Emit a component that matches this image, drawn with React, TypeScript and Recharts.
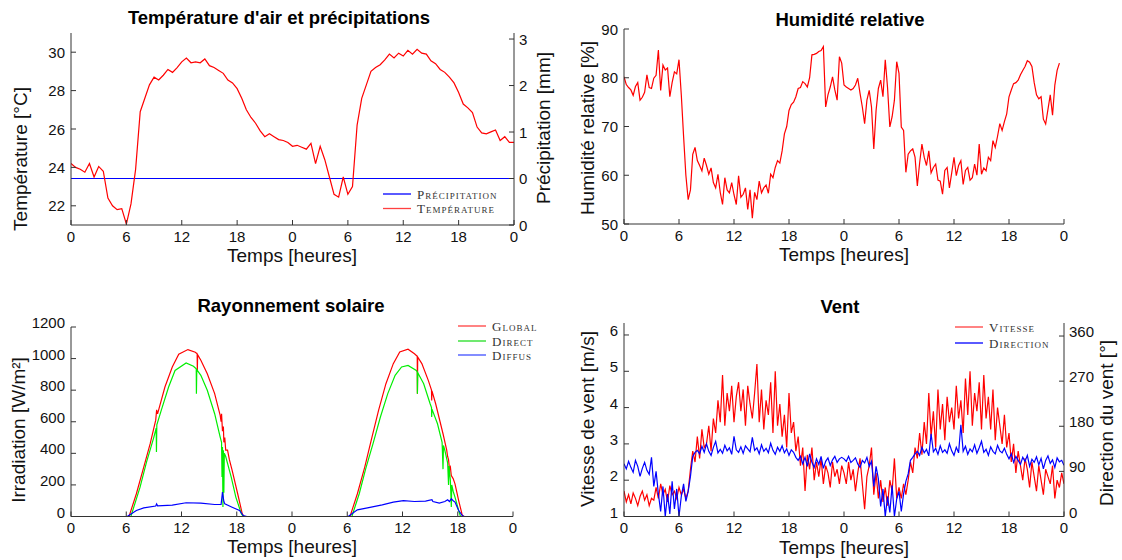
import React from 'react';
import { LineChart, Line, XAxis, YAxis } from 'recharts';

const AXIS = '#333333';
const TXT = '#111111';
const SANS = '"Liberation Sans", Arial, Helvetica, sans-serif';
const SERIF = '"Liberation Serif", "Times New Roman", serif';

// ---------- shared x axis ----------
const hourTicks = [0, 6, 12, 18, 24, 30, 36, 42, 48];
const hourLabel = (h: number) => String(h % 24);

// ---------- panel 1 : temperature & precipitation ----------
const tempStep = 0.5; // hours between samples
const temperature = [
  24.2, 24.0, 23.9, 23.75, 24.2, 23.5, 24.05, 23.8, 22.4, 22.0,
  21.8, 21.85, 21.05, 22.1, 23.9, 26.9, 27.6, 28.3, 28.7, 28.55,
  28.8, 29.1, 28.95, 29.2, 29.5, 29.7, 29.45, 29.5, 29.45, 29.65,
  29.3, 29.2, 29.05, 28.9, 28.55, 28.4, 28.1, 27.6, 27.0, 26.6,
  26.3, 25.9, 25.6, 25.75, 25.6, 25.45, 25.4, 25.3, 25.1, 25.15,
  25.05, 24.95, 25.25, 24.2, 25.1, 24.4, 23.5, 22.6, 22.45, 23.5,
  22.6, 23.0, 26.2, 27.6, 28.3, 29.0, 29.2, 29.35, 29.6, 29.9,
  29.7, 29.95, 29.8, 30.1, 29.9, 30.15, 29.95, 29.9, 29.55, 29.4,
  29.1, 28.95, 28.7, 28.4, 27.9, 27.3, 27.1, 26.85, 26.1, 25.8,
  25.75, 25.85, 25.95, 25.4, 25.6, 25.3, 25.3,
];
const precipStep = 6;
const precipitation = [0, 0, 0, 0, 0, 0, 0, 0, 0];
const tempTicks = [22, 24, 26, 28, 30];
const precipTicks = [-1, 0, 1, 2, 3];
const precipTickLabel = (v: number) => (v === -1 ? '0' : String(v));

// ---------- panel 2 : relative humidity ----------
const humStep = 0.25;
const humidity = [
  80.2, 78.6, 78.0, 77.5, 76.4, 78.2, 79.0, 75.4,
  76.0, 77.0, 80.6, 78.0, 77.8, 79.9, 80.5, 85.7,
  77.4, 82.6, 81.6, 82.0, 76.1, 79.0, 81.2, 80.8,
  83.7, 76.5, 68.0, 60.0, 55.0, 57.0, 64.3, 65.7,
  63.0, 62.0, 60.9, 63.5, 62.0, 60.2, 61.5, 58.5,
  57.4, 60.2, 56.5, 54.0, 59.5, 57.0, 56.4, 58.5,
  56.0, 54.0, 59.9, 55.5, 56.1, 57.4, 53.0, 57.0,
  51.2, 56.5, 55.0, 58.8, 56.4, 57.4, 58.0, 56.3,
  60.2, 59.5, 61.6, 63.0, 62.5, 65.0, 68.5, 70.0,
  73.3, 74.5, 75.0, 76.1, 77.8, 78.0, 79.2, 78.8,
  78.1, 80.0, 84.7, 84.8, 85.0, 85.4, 85.6, 86.4,
  74.0, 76.5, 78.1, 80.2, 77.5, 75.4, 84.3, 83.0,
  78.5, 78.1, 77.8, 77.5, 77.8, 78.5, 79.9, 76.8,
  74.0, 70.6, 75.4, 77.4, 74.0, 65.4, 73.3, 77.8,
  79.5, 76.1, 83.7, 78.0, 69.9, 72.0, 75.4, 83.3,
  80.9, 69.9, 69.2, 60.6, 64.3, 65.0, 65.4, 63.7,
  57.8, 62.5, 66.4, 63.7, 62.0, 65.0, 60.5, 61.6,
  62.3, 59.0, 58.8, 56.1, 61.0, 61.6, 57.4, 60.5,
  63.7, 59.9, 62.0, 63.0, 58.1, 61.0, 61.6, 59.0,
  59.5, 62.3, 60.0, 66.4, 60.2, 61.5, 60.9, 63.7,
  63.0, 67.1, 65.7, 68.0, 70.6, 69.2, 71.0, 72.6,
  76.1, 77.5, 78.8, 79.0, 79.5, 80.6, 81.5, 82.3,
  83.5, 83.2, 82.3, 79.0, 76.5, 75.7, 76.1, 71.5,
  70.5, 73.5, 76.5, 72.3, 78.5, 81.5, 83.0,
];
const humTicks = [50, 60, 70, 80, 90];

// ---------- panel 3 : solar radiation [hour, W/m2] ----------
const globalIrr: [number, number][] = [
  [0, 0], [6.3, 0], [7.1, 144], [7.9, 313], [8.6, 461], [9.2, 610], [9.3, 675], [9.4, 650],
  [10.2, 820], [11.0, 947], [11.7, 1027], [12.7, 1057], [13.5, 1040], [13.7, 1030], [13.72, 925],
  [13.75, 1025], [14.1, 989], [14.8, 904], [15.6, 778], [16.2, 640], [16.3, 600], [16.35, 650],
  [16.45, 540], [16.55, 570], [16.6, 470], [16.7, 500], [16.8, 420], [17.0, 420], [17.2, 360],
  [17.5, 292], [18.1, 144], [18.6, 17], [18.8, 0], [30.3, 0], [31.1, 144], [31.9, 313],
  [32.6, 482], [33.4, 672], [34.2, 841], [35.0, 968], [35.7, 1042], [36.6, 1059], [37.3, 1031],
  [37.6, 1015], [37.62, 778], [37.65, 1010], [38.1, 968], [38.8, 862], [39.15, 800], [39.17, 735],
  [39.2, 795], [39.6, 714], [40.4, 524], [40.8, 420], [40.9, 380], [41.0, 360], [41.1, 300],
  [41.2, 313], [41.3, 260], [41.5, 240], [41.7, 207], [42.1, 101], [42.5, 6], [42.7, 0], [48, 0],
];
const directIrr: [number, number][] = [
  [0, 0], [6.5, 0], [7.5, 186], [8.2, 344], [9.0, 503], [9.25, 560], [9.28, 408], [9.32, 580],
  [9.8, 672], [10.6, 820], [11.3, 925], [12.5, 972], [13.3, 951], [13.6, 935], [13.62, 778],
  [13.66, 930], [14.1, 894], [14.8, 799], [15.6, 651], [16.2, 503], [16.35, 470], [16.4, 250],
  [16.45, 440], [16.5, 60], [16.55, 420], [16.6, 150], [16.65, 400], [16.8, 380], [17.4, 249],
  [17.9, 123], [18.5, 17], [18.7, 0], [30.5, 0], [31.3, 144], [32.0, 302], [32.8, 461],
  [33.6, 630], [34.4, 778], [35.2, 894], [35.9, 947], [36.6, 957], [37.5, 925], [37.6, 915],
  [37.62, 778], [37.66, 910], [38.3, 841], [39.0, 714], [39.15, 690], [39.17, 630], [39.2, 680],
  [39.8, 587], [40.3, 470], [40.4, 300], [40.45, 450], [40.6, 418], [40.9, 340], [41.0, 200],
  [41.05, 320], [41.2, 228], [41.3, 60], [41.35, 200], [41.5, 160], [41.7, 123], [42.1, 38],
  [42.3, 0], [48, 0],
];
const diffuseIrr: [number, number][] = [
  [0, 0], [6.1, 0], [7.1, 38], [7.9, 55], [9.2, 66], [9.3, 80], [9.4, 68], [11.0, 72],
  [12.5, 87], [14.1, 85], [15.6, 76], [16.3, 76], [16.45, 154], [16.6, 95], [16.7, 80],
  [17.5, 59], [18.3, 38], [18.7, 6], [19.1, 0], [30.1, 0], [31.1, 42], [32.2, 55], [33.8, 74],
  [35.0, 91], [36.1, 101], [37.3, 95], [38.5, 97], [39.2, 106], [39.3, 95], [40.0, 85],
  [40.6, 95], [40.9, 106], [41.1, 95], [41.3, 112], [41.5, 100], [41.7, 91], [42.1, 38],
  [42.5, 6], [42.7, 0], [48, 0],
];
const irrTicks = [0, 200, 400, 600, 800, 1000, 1200];

// ---------- panel 4 : wind ----------
const windStep = 0.25;
const windSpeed = [
  1.7, 1.4, 1.6, 1.35, 1.65, 1.5, 1.3, 1.55, 1.7, 1.45, 1.6, 1.3, 1.5,
  1.45, 1.8, 1.5, 1.9, 1.6, 1.75, 1.4, 1.85, 1.6, 1.7, 1.5, 1.8, 1.6, 1.75, 1.5,
  1.7, 2.3, 2.8, 2.5,
  3.2, 2.6, 3.4, 2.9, 3.0, 3.5, 2.8, 3.7,
  3.3, 4.2, 3.6, 4.9, 3.5, 4.4, 3.9, 4.6,
  3.6, 4.3, 4.7, 3.9, 4.5, 3.5, 4.6, 4.1, 3.7, 4.4, 5.2, 3.6,
  4.5, 3.4, 4.2, 3.8, 4.7, 3.3, 5.0, 3.5,
  4.1, 3.2, 3.8, 2.9, 4.4, 3.3, 3.6, 2.8,
  3.2, 2.4, 2.9, 1.7, 2.7, 2.3, 2.9, 2.0,
  2.5, 2.1, 2.6, 1.9, 2.4, 2.2, 1.8, 2.5, 2.1, 2.3, 1.9, 2.4,
  2.2, 1.9, 2.5, 2.0, 2.3, 1.7, 2.2, 2.6, 1.9, 1.2, 2.1, 2.4,
  2.9, 1.6, 2.2, 1.5, 2.0, 1.4, 1.8, 1.3, 2.0, 1.7, 2.6, 1.5,
  1.8, 1.5, 1.9, 1.6,
  2.0, 2.5, 2.2, 2.9, 2.6, 3.3, 2.7, 3.6,
  3.0, 4.4, 3.2, 3.9, 2.9, 4.5, 3.4, 4.1, 3.1, 4.3, 3.6, 4.0,
  3.4, 4.6, 3.7, 4.2, 3.3, 4.8, 3.8, 5.0, 3.5, 4.4, 3.9, 4.7, 3.4, 4.9, 3.7, 4.3,
  3.4, 4.5, 3.1, 4.0, 3.5, 3.0, 3.8, 2.9,
  3.3, 2.5, 3.0, 2.2, 2.8, 2.4, 2.0, 2.6,
  2.3, 1.8, 2.5, 2.1, 1.7, 2.4, 2.0, 1.6, 2.3, 2.1, 1.9, 2.4, 1.5, 2.0, 1.8, 2.2,
  1.9,
];
const windDirection = [
  105, 95, 110, 98, 88, 112, 100, 80, 96, 108, 92, 84,
  118, 60, 90, 45,
  10, 60, 0, 45, 5, 70, 15, 55, 0, 40, 65, 30,
  50, 80, 120, 128,
  132, 125, 140, 128, 145, 130, 122, 138, 150, 127, 134, 126,
  142, 131, 137, 124, 160, 133, 128, 139, 126, 141, 135, 129,
  158, 132, 137, 125, 143, 130, 136, 127, 146, 132, 124, 138,
  130, 141, 127, 135, 122, 133, 128, 118,
  112, 120, 105, 118, 100, 125, 108, 98, 115, 104, 120, 96, 110, 117, 102, 113, 120, 108, 115, 118,
  115, 110, 120, 108, 112, 117, 105, 98, 112, 107, 118, 100,
  110, 60, 100, 75,
  20, 55, 0, 40, 8, 62, 0, 35, 50, 10, 45, 70,
  85, 112, 118, 125,
  130, 122, 138, 127, 134, 121, 165, 129, 136, 124, 141, 128,
  133, 126, 145, 131, 122, 138, 127, 183, 130, 140, 124, 135,
  129, 143, 126, 137, 150, 128, 134, 122, 139, 130, 125, 142,
  131, 127, 136, 124,
  115, 125, 108, 120, 112, 104, 118, 110, 122, 100, 114, 108, 119, 103, 116, 95, 112, 121, 106, 113, 98, 117, 109, 112,
  102,
];
const speedTicks = [1, 2, 3, 4, 5, 6];
const dirTicks = [0, 90, 180, 270, 360];

// ---------- helpers ----------
const stepRows = (vals: number[], step: number) => vals.map((v, i) => ({ h: i * step, v }));
const pairRows = (pairs: [number, number][]) => pairs.map(([h, v]) => ({ h, v }));

const tickText = { fontSize: 15, fontFamily: SANS, fill: TXT } as const;

const xTick = (B: number) => (p: any) => (
  <g>
    <line x1={p.x} x2={p.x} y1={B} y2={B - 5} stroke={AXIS} />
    <text x={p.x} y={B + 11} textAnchor="middle" dominantBaseline="central" {...tickText}>
      {hourLabel(p.payload.value)}
    </text>
  </g>
);
const yTickLeft = (L: number, dy: number, fmt: (v: number) => string = String) => (p: any) => (
  <g>
    <line x1={L} x2={L + 5} y1={p.y} y2={p.y} stroke={AXIS} />
    <text x={L - 6} y={p.y + dy} textAnchor="end" dominantBaseline="central" {...tickText}>
      {fmt(p.payload.value)}
    </text>
  </g>
);
const yTickRight = (R: number, dy: number, fmt: (v: number) => string = String) => (p: any) => (
  <g>
    <line x1={R} x2={R - 5} y1={p.y} y2={p.y} stroke={AXIS} />
    <text x={R + 5} y={p.y + dy} textAnchor="start" dominantBaseline="central" {...tickText}>
      {fmt(p.payload.value)}
    </text>
  </g>
);

const W = 561;
const H = 280;

const xAxisEl = (B: number) => (
  <XAxis
    type="number"
    dataKey="h"
    domain={[0, 48]}
    allowDataOverflow
    ticks={hourTicks}
    interval={0}
    height={H - B}
    axisLine={{ stroke: AXIS }}
    tickLine={false}
    tick={xTick(B)}
  />
);

const lineProps = { dataKey: 'v', dot: false, isAnimationActive: false, type: 'linear' as const, strokeWidth: 1.2, activeDot: false };

function TempChart() {
  const L = 71, R = 514, T = 33, B = 225;
  return (
    <LineChart width={W} height={H} margin={{ top: T, right: 0, bottom: 0, left: 0 }}>
      {xAxisEl(B)}
      <YAxis yAxisId="t" width={L} domain={[21, 31]} allowDataOverflow ticks={tempTicks} interval={0}
        axisLine={{ stroke: AXIS }} tickLine={false} tick={yTickLeft(L, 0)} />
      <YAxis yAxisId="p" orientation="right" width={W - R} domain={[-1, 3.13]} allowDataOverflow ticks={precipTicks} interval={0}
        axisLine={{ stroke: AXIS }} tickLine={false} tick={yTickRight(R, 0, precipTickLabel)} />
      <Line yAxisId="p" data={stepRows(precipitation, precipStep)} stroke="#0000ff" {...lineProps} />
      <Line yAxisId="t" data={stepRows(temperature, tempStep)} stroke="#ff0000" {...lineProps} />
    </LineChart>
  );
}

function HumChart() {
  const L = 63, R = 503, T = 29, B = 224;
  return (
    <LineChart width={W} height={H} margin={{ top: T, right: W - R, bottom: 0, left: 0 }}>
      {xAxisEl(B)}
      <YAxis width={L} domain={[50, 90]} allowDataOverflow ticks={humTicks} interval={0}
        axisLine={{ stroke: AXIS }} tickLine={false} tick={yTickLeft(L, 0)} />
      <Line data={stepRows(humidity, humStep)} stroke="#ff0000" {...lineProps} />
    </LineChart>
  );
}

function SolarChart() {
  const L = 71, R = 513, T = 47, B = 236.5;
  return (
    <LineChart width={W} height={H} margin={{ top: T, right: W - R, bottom: 0, left: 0 }}>
      {xAxisEl(B)}
      <YAxis width={L} domain={[0, 1200]} allowDataOverflow ticks={irrTicks} interval={0}
        axisLine={{ stroke: AXIS }} tickLine={false} tick={yTickLeft(L, -4.5)} />
      <Line data={pairRows(globalIrr)} stroke="#ff0000" {...lineProps} />
      <Line data={pairRows(directIrr)} stroke="#00ee00" {...lineProps} />
      <Line data={pairRows(diffuseIrr)} stroke="#0000ff" {...lineProps} />
    </LineChart>
  );
}

function WindChart() {
  const L = 63, R = 503, T = 43, B = 236.5;
  return (
    <LineChart width={W} height={H} margin={{ top: T, right: 0, bottom: 0, left: 0 }}>
      {xAxisEl(B)}
      <YAxis yAxisId="s" width={L} domain={[1, 6.33]} allowDataOverflow ticks={speedTicks} interval={0}
        axisLine={{ stroke: AXIS }} tickLine={false} tick={yTickLeft(L, -4.5)} />
      <YAxis yAxisId="d" orientation="right" width={W - R} domain={[0, 386]} allowDataOverflow ticks={dirTicks} interval={0}
        axisLine={{ stroke: AXIS }} tickLine={false} tick={yTickRight(R, -4.5)} />
      <Line yAxisId="s" data={stepRows(windSpeed, windStep)} stroke="#ff0000" {...lineProps} />
      <Line yAxisId="d" data={stepRows(windDirection, windStep)} stroke="#0000ff" {...lineProps} />
    </LineChart>
  );
}

const titleStyle = { fontSize: 18.5, fontWeight: 700, fontFamily: SANS, fill: '#000' } as const;
const labelStyle = { fontSize: 19, fontFamily: SANS, fill: TXT } as const;
const legendStyle = { fontSize: 13, fontFamily: SERIF, fill: '#333', fontVariant: 'small-caps', letterSpacing: 1 } as any;

function VLabel({ x, y, text }: { x: number; y: number; text: string }) {
  return (
    <text transform={`translate(${x},${y}) rotate(-90)`} textAnchor="middle" {...labelStyle}>
      {text}
    </text>
  );
}

function LegendEntries({ x, ys, items }: { x: number; ys: number[]; items: { name: string; color: string }[] }) {
  return (
    <g>
      {items.map((it, i) => (
        <g key={it.name}>
          <line x1={x} x2={x + 28} y1={ys[i]} y2={ys[i]} stroke={it.color} strokeWidth={1.3} />
          <text x={x + 34} y={ys[i]} dominantBaseline="central" {...legendStyle}>{it.name}</text>
        </g>
      ))}
    </g>
  );
}

export default function App() {
  return (
    <div style={{ position: 'absolute', left: 0, top: 0, width: 1122, height: 560, background: '#fff' }}>
      <div style={{ position: 'absolute', left: 0, top: 0 }}><TempChart /></div>
      <div style={{ position: 'absolute', left: 561, top: 0 }}><HumChart /></div>
      <div style={{ position: 'absolute', left: 0, top: 280 }}><SolarChart /></div>
      <div style={{ position: 'absolute', left: 561, top: 280 }}><WindChart /></div>
      <svg width={1122} height={560} style={{ position: 'absolute', left: 0, top: 0, pointerEvents: 'none' }}>
        <text x={279} y={24} textAnchor="middle" {...titleStyle}>Température d'air et précipitations</text>
        <text x={850} y={26} textAnchor="middle" {...titleStyle}>Humidité relative</text>
        <text x={291} y={312} textAnchor="middle" {...titleStyle}>Rayonnement solaire</text>
        <text x={840} y={313} textAnchor="middle" {...titleStyle}>Vent</text>

        <text x={292} y={262} textAnchor="middle" {...labelStyle}>Temps [heures]</text>
        <text x={844} y={261} textAnchor="middle" {...labelStyle}>Temps [heures]</text>
        <text x={292} y={553} textAnchor="middle" {...labelStyle}>Temps [heures]</text>
        <text x={844} y={554} textAnchor="middle" {...labelStyle}>Temps [heures]</text>

        <VLabel x={27} y={159} text="Température [°C]" />
        <VLabel x={550} y={128} text="Précipitation [mm]" />
        <VLabel x={594} y={128} text="Humidité relative [%]" />
        <VLabel x={25} y={430} text="Irradiation [W/m²]" />
        <VLabel x={594} y={419} text="Vitesse de vent [m/s]" />
        <VLabel x={1113} y={423} text="Direction du vent [°]" />

        <LegendEntries x={383} ys={[194, 208.5]} items={[{ name: 'Précipitation', color: '#0000ff' }, { name: 'Température', color: '#ff4040' }]} />
        <LegendEntries x={458} ys={[326, 341, 355]} items={[{ name: 'Global', color: '#ff4040' }, { name: 'Direct', color: '#22dd22' }, { name: 'Diffus', color: '#4050ff' }]} />
        <LegendEntries x={955} ys={[327, 343]} items={[{ name: 'Vitesse', color: '#ff4040' }, { name: 'Direction', color: '#0000ff' }]} />
      </svg>
    </div>
  );
}
